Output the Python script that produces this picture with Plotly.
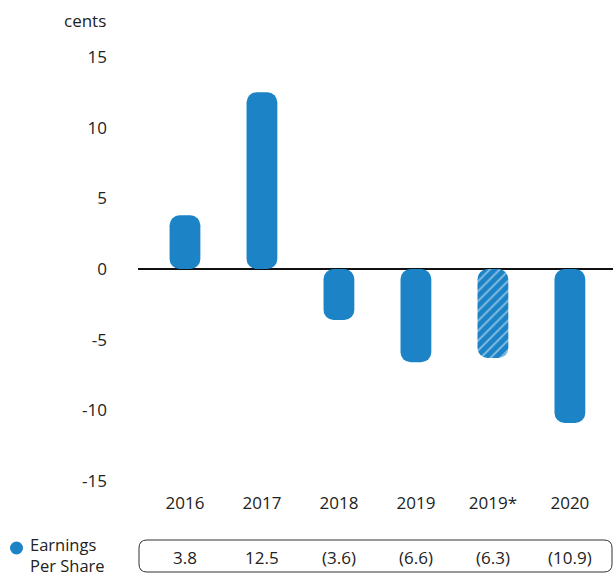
import plotly.graph_objects as go

categories = ["2016", "2017", "2018", "2019", "2019*", "2020"]
eps_values = [3.8, 12.5, -3.6, -6.6, -6.3, -10.9]
hatched = [False, False, False, False, True, False]
y_ticks = [15, 10, 5, 0, -5, -10, -15]

BLUE = "#1b83c6"
TEXT = "#222222"
FONT = "Open Sans"
FS = 17

W, H = 613, 575
L, R, T, B = 138, 0, 57, 94
PW, PH = W - L - R, H - T - B


def px(x):
    return (x - L) / PW


def py(y):
    return (H - B - y) / PH


def fmt(v):
    return f"({abs(v):.1f})" if v < 0 else f"{v:.1f}"


fig = go.Figure()

# explicit base -> plotly rounds both ends of each bar (capsule)
fig.add_trace(go.Bar(
    x=list(range(len(categories))), y=eps_values, base=[0] * len(eps_values),
    width=0.4,
    marker=dict(
        color=BLUE, line=dict(width=0),
        pattern=dict(
            shape=["/" if h else "" for h in hatched],
            fgcolor="#ffffff", bgcolor=BLUE, size=7, solidity=0.25,
        ),
    ),
    showlegend=False, hoverinfo="skip",
))

fig.update_layout(
    width=W, height=H,
    margin=dict(l=L, r=R, t=T, b=B),
    paper_bgcolor="white", plot_bgcolor="white",
    barcornerradius=10,
    font=dict(family=FONT, size=FS, color=TEXT),
    xaxis=dict(
        range=[-0.61, 5.56], showgrid=False, showline=False, zeroline=False,
        tickvals=list(range(len(categories))), ticktext=categories,
        ticks="", ticklabelstandoff=10, tickfont=dict(size=FS, color=TEXT),
    ),
    yaxis=dict(
        range=[-15, 15], tickvals=y_ticks, ticktext=[str(t) for t in y_ticks],
        showgrid=False, showline=False, ticks="", ticklabelstandoff=30,
        zeroline=True, zerolinecolor="#111111", zerolinewidth=1.5,
        tickfont=dict(size=FS, color=TEXT),
    ),
)

# unit label
fig.add_annotation(text="cents", xref="paper", yref="paper", x=px(108), y=py(21),
                   xanchor="right", yanchor="middle", showarrow=False,
                   font=dict(size=FS, color=TEXT))

# legend dot + label
fig.add_shape(type="circle", xref="paper", yref="paper",
              x0=px(10), x1=px(23), y0=py(554.5), y1=py(541.5),
              fillcolor=BLUE, line=dict(width=0))
fig.add_annotation(text="Earnings<br>Per Share", xref="paper", yref="paper",
                   x=px(28), y=py(555), xanchor="left", yanchor="middle",
                   align="left", showarrow=False,
                   font=dict(size=16.5, color=TEXT))

# rounded table box
x0, x1, y0, y1, r = 139, 612, 540, 572, 8
path = (
    f"M {px(x0 + r)} {py(y0)} L {px(x1 - r)} {py(y0)} "
    f"Q {px(x1)} {py(y0)} {px(x1)} {py(y0 + r)} L {px(x1)} {py(y1 - r)} "
    f"Q {px(x1)} {py(y1)} {px(x1 - r)} {py(y1)} L {px(x0 + r)} {py(y1)} "
    f"Q {px(x0)} {py(y1)} {px(x0)} {py(y1 - r)} L {px(x0)} {py(y0 + r)} "
    f"Q {px(x0)} {py(y0)} {px(x0 + r)} {py(y0)} Z"
)
fig.add_shape(type="path", path=path, xref="paper", yref="paper",
              line=dict(color="#333333", width=1), fillcolor="rgba(0,0,0,0)")

for i, v in enumerate(eps_values):
    fig.add_annotation(text=fmt(v), x=i, xref="x", yref="paper", y=py(557),
                       yanchor="middle", showarrow=False,
                       font=dict(size=FS, color=TEXT))

fig.write_html("out.html", config={"displayModeBar": False},
               post_script="document.body.style.margin='0';")
